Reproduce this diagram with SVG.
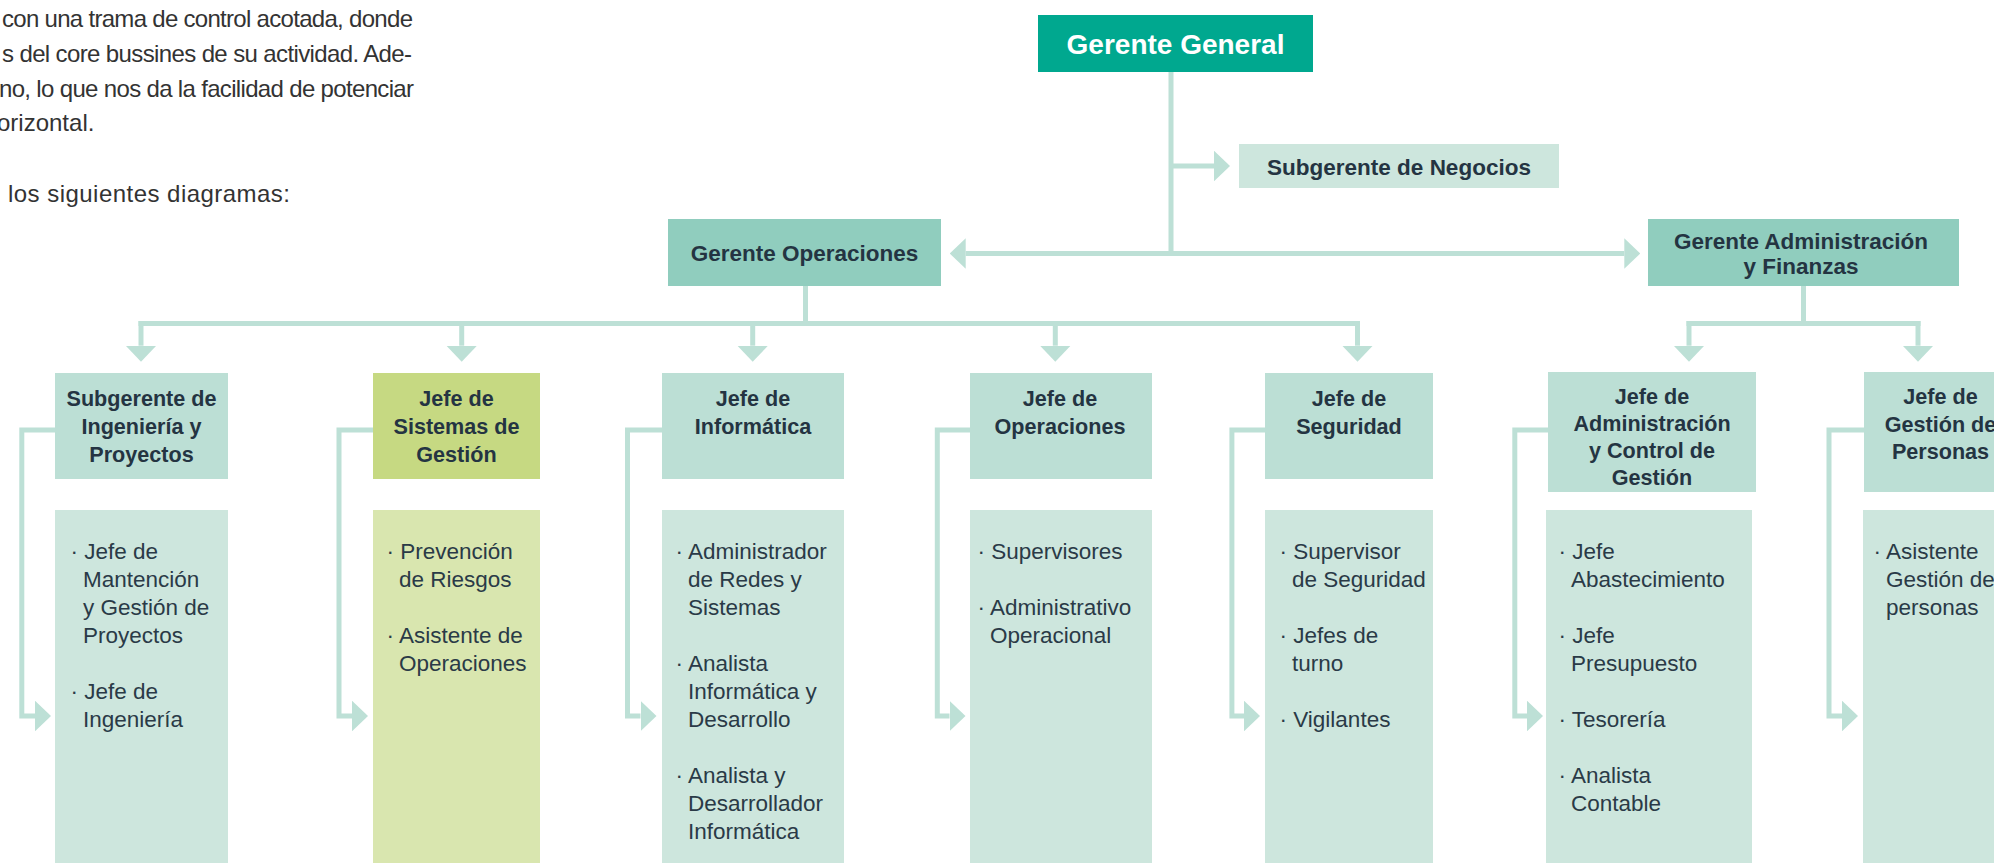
<svg xmlns="http://www.w3.org/2000/svg" width="1994" height="863" viewBox="0 0 1994 863">
<defs>
<style>
.bg{fill:#ffffff}
.para{font-family:"Liberation Sans",Arial,sans-serif;font-size:24px;fill:#333333}
.top{fill:#00a88f}
.mid{fill:#90cdbe}
.sub{fill:#cde6dd}
.hdr{fill:#bcdfd5}
.lst{fill:#cde6dd}
.hdrY{fill:#c6d982}
.lstY{fill:#d9e6af}
.tw{font-family:"Liberation Sans",Arial,sans-serif;font-weight:bold;font-size:28px;fill:#ffffff;text-anchor:middle}
.t1{font-family:"Liberation Sans",Arial,sans-serif;font-weight:bold;font-size:22.5px;fill:#243442;text-anchor:middle}
.t2{font-family:"Liberation Sans",Arial,sans-serif;font-weight:bold;font-size:21.6px;fill:#243442;text-anchor:middle}
.li{font-family:"Liberation Sans",Arial,sans-serif;font-size:22.5px;fill:#2a3a47}
.conn{fill:none;stroke:#bde0d6;stroke-width:5;stroke-linejoin:miter;stroke-linecap:butt}
</style>
<marker id="ah" viewBox="0 0 16 30.6" refX="0" refY="15.3" markerWidth="16" markerHeight="30.6" markerUnits="userSpaceOnUse" orient="auto">
<path d="M0,0 L16,15.3 L0,30.6 Z" fill="#bde0d6"/>
</marker>
</defs>
<rect class="bg" x="0" y="0" width="1994" height="863"/>

<g id="intro-text">
<text class="para" x="2" y="27" textLength="411" lengthAdjust="spacing">con una trama de control acotada, donde</text>
<text class="para" x="2" y="62" textLength="410" lengthAdjust="spacing">s del core bussines de su actividad. Ade-</text>
<text class="para" x="-1" y="97" textLength="415" lengthAdjust="spacing">no, lo que nos da la facilidad de potenciar</text>
<text class="para" x="-3" y="131">orizontal.</text>
<text class="para" x="8" y="202" textLength="282" lengthAdjust="spacing">los siguientes diagramas:</text>
</g>

<g id="connectors">
<path class="conn" d="M1171,72 V253.5"/>
<path class="conn" d="M1171,166 H1214" marker-end="url(#ah)"/>
<path class="conn" d="M1171,253.5 H965.7" marker-end="url(#ah)"/>
<path class="conn" d="M1171,253.5 H1624.3" marker-end="url(#ah)"/>
<path class="conn" d="M805.5,286 V323.5"/>
<path class="conn" d="M138.5,323.5 H1360"/>
<path class="conn" d="M141,321 V345.7" marker-end="url(#ah)"/>
<path class="conn" d="M461.7,323.5 V345.7" marker-end="url(#ah)"/>
<path class="conn" d="M752.7,323.5 V345.7" marker-end="url(#ah)"/>
<path class="conn" d="M1055.3,323.5 V345.7" marker-end="url(#ah)"/>
<path class="conn" d="M1357.5,321 V345.7" marker-end="url(#ah)"/>
<path class="conn" d="M1803.5,286 V323.5"/>
<path class="conn" d="M1686.5,323.5 H1920.5"/>
<path class="conn" d="M1689,321 V345.7" marker-end="url(#ah)"/>
<path class="conn" d="M1918,321 V345.7" marker-end="url(#ah)"/>
<path class="conn" d="M55,430 H21.8 V716 H35" marker-end="url(#ah)"/>
<path class="conn" d="M373,430 H339 V716 H352" marker-end="url(#ah)"/>
<path class="conn" d="M662,430 H627.5 V716 H640.5" marker-end="url(#ah)"/>
<path class="conn" d="M970,430 H937.3 V716 H949.5" marker-end="url(#ah)"/>
<path class="conn" d="M1265,430 H1231.9 V716 H1244" marker-end="url(#ah)"/>
<path class="conn" d="M1548,430 H1514.8 V716 H1527" marker-end="url(#ah)"/>
<path class="conn" d="M1864,430 H1829 V716 H1842" marker-end="url(#ah)"/>
</g>

<g id="gerente-general">
<rect class="top" x="1038" y="15" width="275" height="57"/>
<text class="tw" x="1175.5" y="54">Gerente General</text>
</g>

<g id="subgerente-negocios">
<rect class="sub" x="1239" y="144" width="320" height="44"/>
<text class="t1" x="1399" y="175">Subgerente de Negocios</text>
</g>

<g id="gerente-operaciones">
<rect class="mid" x="668" y="219" width="273" height="67"/>
<text class="t1" x="804.5" y="261">Gerente Operaciones</text>
</g>

<g id="gerente-admin-finanzas">
<rect class="mid" x="1648" y="219" width="311" height="67"/>
<text class="t1" x="1801"><tspan x="1801" y="248.5">Gerente Administración</tspan><tspan x="1801" y="274">y Finanzas</tspan></text>
</g>

<g id="subgerente-ingenieria">
<rect class="hdr" x="55" y="373" width="173" height="106"/>
<text class="t2"><tspan x="141.5" y="405.5">Subgerente de</tspan><tspan x="141.5" y="433.5">Ingeniería y</tspan><tspan x="141.5" y="461.5">Proyectos</tspan></text>
<rect class="lst" x="55" y="510" width="173" height="360"/>
<text class="li"><tspan x="70.5" y="559">· Jefe de</tspan><tspan x="83" y="587">Mantención</tspan><tspan x="83" y="615">y Gestión de</tspan><tspan x="83" y="643">Proyectos</tspan><tspan x="70.5" y="699">· Jefe de</tspan><tspan x="83" y="727">Ingeniería</tspan></text>
</g>

<g id="jefe-sistemas-gestion">
<rect class="hdrY" x="373" y="373" width="167" height="106"/>
<text class="t2"><tspan x="456.5" y="405.5">Jefe de</tspan><tspan x="456.5" y="433.5">Sistemas de</tspan><tspan x="456.5" y="461.5">Gestión</tspan></text>
<rect class="lstY" x="373" y="510" width="167" height="360"/>
<text class="li"><tspan x="386.5" y="559">· Prevención</tspan><tspan x="399" y="587">de Riesgos</tspan><tspan x="386.5" y="643">· Asistente de</tspan><tspan x="399" y="671">Operaciones</tspan></text>
</g>

<g id="jefe-informatica">
<rect class="hdr" x="662" y="373" width="182" height="106"/>
<text class="t2"><tspan x="753" y="405.5">Jefe de</tspan><tspan x="753" y="433.5">Informática</tspan></text>
<rect class="lst" x="662" y="510" width="182" height="360"/>
<text class="li"><tspan x="675.5" y="559">· Administrador</tspan><tspan x="688" y="587">de Redes y</tspan><tspan x="688" y="615">Sistemas</tspan><tspan x="675.5" y="671">· Analista</tspan><tspan x="688" y="699">Informática y</tspan><tspan x="688" y="727">Desarrollo</tspan><tspan x="675.5" y="783">· Analista y</tspan><tspan x="688" y="811">Desarrollador</tspan><tspan x="688" y="839">Informática</tspan></text>
</g>

<g id="jefe-operaciones">
<rect class="hdr" x="970" y="373" width="182" height="106"/>
<text class="t2"><tspan x="1060" y="405.5">Jefe de</tspan><tspan x="1060" y="433.5">Operaciones</tspan></text>
<rect class="lst" x="970" y="510" width="182" height="360"/>
<text class="li"><tspan x="977.5" y="559">· Supervisores</tspan><tspan x="977.5" y="615">· Administrativo</tspan><tspan x="990" y="643">Operacional</tspan></text>
</g>

<g id="jefe-seguridad">
<rect class="hdr" x="1265" y="373" width="168" height="106"/>
<text class="t2"><tspan x="1349" y="405.5">Jefe de</tspan><tspan x="1349" y="433.5">Seguridad</tspan></text>
<rect class="lst" x="1265" y="510" width="168" height="360"/>
<text class="li"><tspan x="1279.5" y="559">· Supervisor</tspan><tspan x="1292" y="587">de Seguridad</tspan><tspan x="1279.5" y="643">· Jefes de</tspan><tspan x="1292" y="671">turno</tspan><tspan x="1279.5" y="727">· Vigilantes</tspan></text>
</g>

<g id="jefe-administracion-control">
<rect class="hdr" x="1548" y="372" width="208" height="120"/>
<text class="t2"><tspan x="1652" y="404">Jefe de</tspan><tspan x="1652" y="431">Administración</tspan><tspan x="1652" y="458">y Control de</tspan><tspan x="1652" y="485">Gestión</tspan></text>
<rect class="lst" x="1546" y="510" width="206" height="360"/>
<text class="li"><tspan x="1558.5" y="559">· Jefe</tspan><tspan x="1571" y="587">Abastecimiento</tspan><tspan x="1558.5" y="643">· Jefe</tspan><tspan x="1571" y="671">Presupuesto</tspan><tspan x="1558.5" y="727">· Tesorería</tspan><tspan x="1558.5" y="783">· Analista</tspan><tspan x="1571" y="811">Contable</tspan></text>
</g>

<g id="jefe-gestion-personas">
<rect class="hdr" x="1864" y="372" width="160" height="120"/>
<text class="t2"><tspan x="1940.5" y="404">Jefe de</tspan><tspan x="1940.5" y="431.5">Gestión de</tspan><tspan x="1940.5" y="459">Personas</tspan></text>
<rect class="lst" x="1863" y="510" width="160" height="360"/>
<text class="li"><tspan x="1873.5" y="559">· Asistente</tspan><tspan x="1886" y="587">Gestión de</tspan><tspan x="1886" y="615">personas</tspan></text>
</g>
</svg>
